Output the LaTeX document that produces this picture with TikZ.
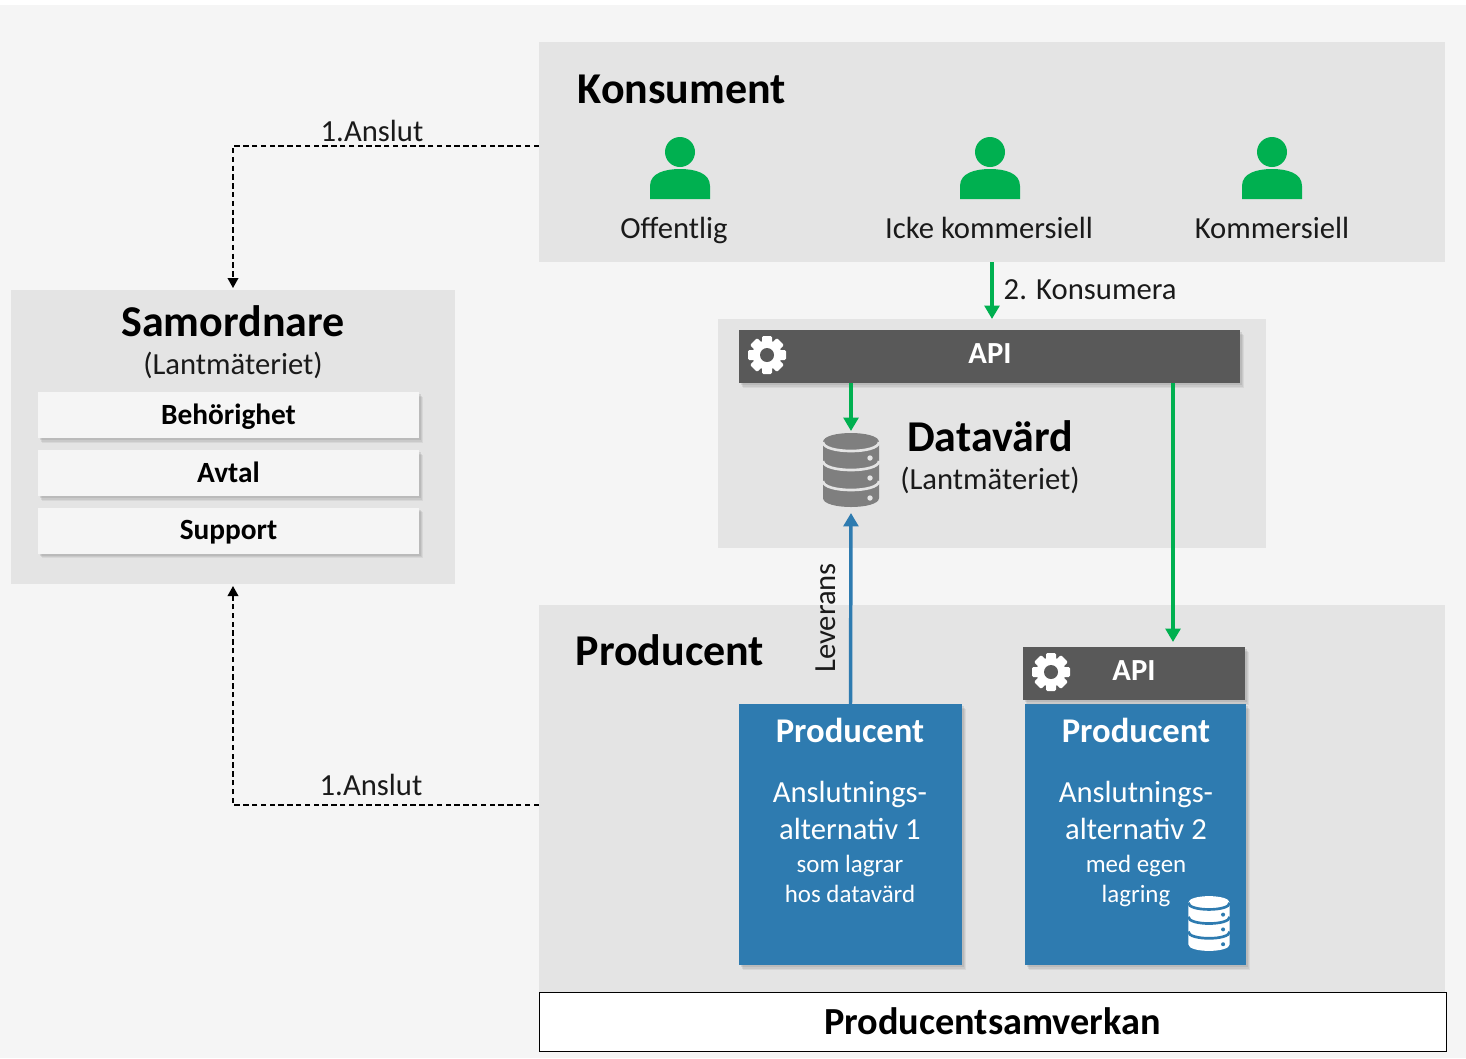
\documentclass[tikz,border=0pt]{standalone}
\usepackage{fontspec}
\setmainfont{Carlito}
\usepackage{xcolor}
\usetikzlibrary{shadows,arrows.meta,positioning,calc}
\definecolor{pagegray}{HTML}{F5F5F5}
\definecolor{panelgray}{HTML}{E4E4E4}
\definecolor{bargray}{HTML}{595959}
\definecolor{dbgray}{HTML}{7F7F7F}
\definecolor{prodblue}{HTML}{2E7BB0}
\definecolor{flowgreen}{HTML}{00B050}
\definecolor{inkblack}{HTML}{1A1A1A}

\begin{document}
\begin{tikzpicture}[
    x=0.75pt, y=-0.75pt,
    pxsize/.style 2 args={minimum width=#1*0.75pt, minimum height=#2*0.75pt, inner sep=0pt, outer sep=0pt},
    softshadow/.style={
        drop shadow={shadow xshift=3.2pt, shadow yshift=-3.6pt, opacity=.12},
        drop shadow={shadow xshift=2.4pt, shadow yshift=-2.7pt, opacity=.16},
        drop shadow={shadow xshift=1.5pt, shadow yshift=-1.8pt, opacity=.2}},
    panel/.style={rectangle, fill=panelgray},
    heading/.style={text=black, font=\bfseries\fontsize{33}{36}\selectfont},
    bodytext/.style={text=inkblack, font=\fontsize{23}{26}\selectfont},
    flowtext/.style={text=inkblack, font=\fontsize{23}{26}\selectfont},
    bar/.style={rectangle, fill=bargray, softshadow},
    apitext/.style={text=white, font=\bfseries\fontsize{23}{26}\selectfont},
    roleitem/.style={rectangle, fill=pagegray, text=black, text height=17pt, text depth=3pt, font=\bfseries\fontsize{22}{25}\selectfont, softshadow},
    prodbox/.style={rectangle, fill=prodblue, softshadow},
    prodhead/.style={text=white, font=\bfseries\fontsize{26}{29}\selectfont},
    prodmain/.style={text=white, align=center, font=\fontsize{23}{27.7}\selectfont},
    prodsub/.style={text=white, align=center, font=\fontsize{18.7}{22.5}\selectfont},
    green arrow/.style={-{Triangle[length=10pt, width=11pt]}, line width=2.6pt, flowgreen},
    blue arrow/.style={-{Triangle[length=10pt, width=11pt]}, line width=2.6pt, prodblue},
    dash arrow/.style={-{Triangle[length=7.5pt, width=8pt]}, dash pattern=on 4pt off 2.6pt, line width=1.1pt, black, shorten >=1.5pt},
    pics/person/.style={code={
        \fill[flowgreen] (0,-32) circle (15);
        \fill[flowgreen] (-30,15) -- (-30,2) .. controls (-30,-11) and (-15,-15) .. (0,-15) .. controls (15,-15) and (30,-11) .. (30,2) -- (30,15) -- cycle;
    }},
    pics/gear/.style={code={
        \foreach \a in {0,45,...,315}
            \fill[white, rotate=\a, rounded corners=1pt] (-5,-19) rectangle (5,0);
        \fill[white] (0,0) circle (14.5);
        \fill[#1] (0,0) circle (7);
    }},
    pics/dbstack/.style 2 args={code={
        \fill[#1] (-28,-28) .. controls (-28,-40) and (28,-40) .. (28,-28) -- (28,28) .. controls (28,40) and (-28,40) .. (-28,28) -- cycle;
        \foreach \y in {-28,-9,11}
            \draw[#2, line width=2pt] (-28,\y) .. controls (-28,\y+12) and (28,\y+12) .. (28,\y);
        \foreach \y in {-12,8,28}
            \fill[#2] (19,\y) circle (2.7);
    }}
]
    \useasboundingbox (0,0) rectangle (1466,1058);
    \fill[pagegray] (0,5) rectangle (1466,1058);

    % Panels
    \node[panel, pxsize={906}{220}] (kons) at (992,152) {};
    \node[panel, pxsize={444}{294}] (samord) at (233,437) {};
    \node[panel, pxsize={548}{229}] (host) at (992,433.5) {};
    \node[panel, pxsize={906}{387}] (prod) at (992,798.5) {};
    \node[rectangle, draw=black, fill=white, pxsize={907}{59}, text height=20pt, text depth=1.2pt, font=\bfseries\fontsize{28.7}{32}\selectfont, text=black] (samverkan) at (992.5,1021.5) {Producentsamverkan};

    % Konsument
    \node[heading, anchor=base west] (konstitle) at (573,103) {Konsument};
    \pic at (680,184) {person};
    \pic at (990,184) {person};
    \pic at (1272,184) {person};
    \node[bodytext, anchor=base] (offentlig) at (674,238) {Offentlig};
    \node[bodytext, anchor=base] (icke) at (989,238) {Icke kommersiell};
    \node[bodytext, anchor=base] (kommersiell) at (1272,238) {Kommersiell};

    % Samordnare
    \node[heading] (samtitle) at (233,321) {Samordnare};
    \node[bodytext] (samsub) at (233,365) {(Lantmäteriet)};
    \node[roleitem, pxsize={381}{46}] (behorighet) at (228.5,415) {Behörighet};
    \node[roleitem, pxsize={381}{46}] (avtal) at (228.5,473) {Avtal};
    \node[roleitem, pxsize={381}{46}] (support) at (228.5,530.5) {Support};

    % Datavard
    \node[bar, pxsize={501}{53}] (apibar) at (989.5,356.5) {};
    \node[apitext] (apilabel) at (990,354) {API};
    \pic at (767,355) {gear=bargray};
    \node[pxsize={56}{78}] (db) at (851,470) {};
    \pic at (851,470) {dbstack={dbgray}{panelgray}};
    \node[heading, anchor=base] (hosttitle) at (990,451) {Datavärd};
    \node[bodytext] (hostsub) at (990,480) {(Lantmäteriet)};

    % Producent
    \node[heading, anchor=base west] (prodtitle) at (571,665) {Producent};
    \coordinate (apidrop) at (1173,642);
    \node[prodbox, pxsize={223}{261}] (prod1) at (850.5,834.5) {};
    \node[prodbox, pxsize={221}{261}] (prod2) at (1135.5,834.5) {};
    \node[bar, pxsize={222}{53}] (apibar2) at (1134,673.5) {};
    \node[apitext] (apilabel2) at (1134,671) {API};
    \pic at (1051,672) {gear=bargray};

    \node[prodhead] (prod1head) at (850,730) {Producent};
    \node[prodmain] (prod1main) at (850,810.5) {Anslutnings-\\alternativ 1};
    \node[prodsub] (prod1sub) at (850,879) {som lagrar\\hos datavärd};
    \node[prodhead] (prod2head) at (1136,730) {Producent};
    \node[prodmain] (prod2main) at (1136,810.5) {Anslutnings-\\alternativ 2};
    \node[prodsub] (prod2sub) at (1136,880.5) {med egen\\lagring};
    \pic[scale=.74] at (1209,923.5) {dbstack={white}{prodblue}};

    % Labels on the arrows
    \coordinate (konsexit) at (539,146);
    \coordinate (prodexit) at (539,805);
    \node[flowtext] (anslut1) at (372,131) {1.Anslut};
    \node[flowtext] (anslut2) at (371,785) {1.Anslut};
    \node[flowtext, anchor=west] (konsumera) at (999,290) {2. Konsumera};
    \node[flowtext, rotate=90] (leverans) at (826,618) {Leverans};

    % Arrows
    \draw[dash arrow] (konsexit) -| (samord.north);
    \draw[dash arrow] (prodexit) -| (samord.south);
    \draw[green arrow] (kons.south) -- (host.north);
    \draw[green arrow] (apibar.south -| db) -- (db.north);
    \draw[green arrow] (apibar.south -| apidrop) -- (apidrop);
    \draw[blue arrow, shorten >=3pt] (prod1.north) -- (db.south);
\end{tikzpicture}
\end{document}
